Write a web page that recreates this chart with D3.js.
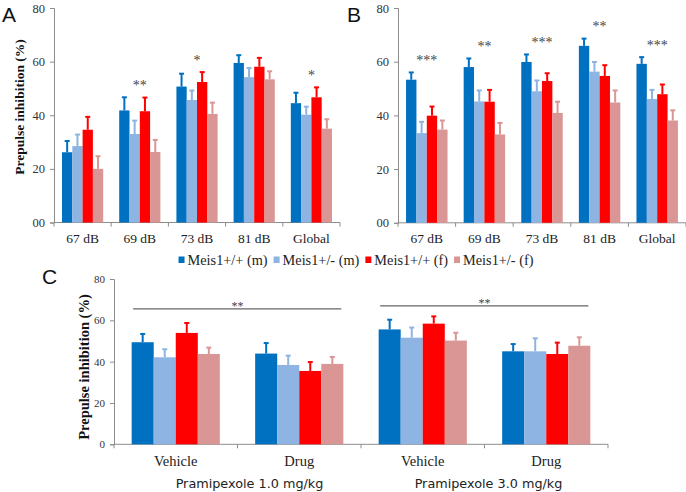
<!DOCTYPE html>
<html><head><meta charset="utf-8">
<script src="https://cdn.jsdelivr.net/npm/d3@7"></script>
<style>body{margin:0;background:#fff}svg{display:block}</style>
</head><body>
<script>
// ---------- data ----------
const seriesNames = ["Meis1+/+ (m)", "Meis1+/- (m)", "Meis1+/+ (f)", "Meis1+/- (f)"];
const seriesColors = ["#0070C0", "#8DB4E2", "#FF0000", "#D99694"];

const catsAB = ["67 dB", "69 dB", "73 dB", "81 dB", "Global"];
const ticksAB = [0, 20, 40, 60, 80];
const tickLabelsAB = ["00", "20", "40", "60", "80"];

// Panel A
const aMwt  = [26.2, 41.8, 50.7, 59.5, 44.5];
const aMhet = [28.5, 33.0, 45.7, 54.2, 40.2];
const aFwt  = [34.6, 41.5, 52.4, 58.1, 46.7];
const aFhet = [20.0, 26.3, 40.5, 53.4, 35.0];
const aMwtSem  = [4.2, 4.9, 4.8, 2.9, 3.9];
const aMhetSem = [4.3, 5.0, 3.5, 3.4, 3.0];
const aFwtSem  = [4.8, 5.1, 3.7, 3.3, 3.7];
const aFhetSem = [4.7, 4.5, 4.2, 3.0, 3.5];
const aStars = ["", "**", "*", "", "*"];

// Panel B
const bMwt  = [53.3, 58.0, 59.9, 65.9, 59.2];
const bMhet = [33.4, 45.2, 49.0, 56.3, 46.1];
const bFwt  = [39.9, 45.1, 52.8, 54.7, 47.9];
const bFhet = [34.7, 32.9, 40.9, 44.8, 38.1];
const bMwtSem  = [2.7, 3.2, 2.8, 2.7, 2.5];
const bMhetSem = [4.2, 4.1, 4.0, 3.6, 3.4];
const bFwtSem  = [3.4, 4.4, 2.9, 4.0, 3.6];
const bFhetSem = [3.4, 4.3, 4.2, 4.5, 3.8];
const bStars = ["***", "**", "***", "**", "***"];

// Panel C
const catsC = ["Vehicle", "Drug", "Vehicle", "Drug"];
const doseLabels = ["Pramipexole 1.0 mg/kg", "Pramipexole 3.0 mg/kg"];
const ticksC = [0, 20, 40, 60, 80];
const cMwt  = [49.4, 43.9, 55.6, 45.0];
const cMhet = [42.1, 38.4, 51.6, 45.0];
const cFwt  = [53.9, 35.5, 58.4, 43.7];
const cFhet = [43.7, 38.9, 50.2, 47.7];
const cMwtSem  = [4.0, 5.1, 4.7, 3.5];
const cMhetSem = [3.9, 4.5, 4.9, 6.3];
const cFwtSem  = [4.8, 4.3, 3.5, 5.5];
const cFhetSem = [3.1, 3.4, 3.8, 4.1];
const cSigFrom = [0, 2];
const cSigTo = [1, 3];
const cSigLevel = [65.5, 67];
const cSigLabel = ["**", "**"];

// ---------- drawing ----------
const W = 686, H = 492;
const svg = d3.select("body").append("svg").attr("width", W).attr("height", H);
const serif = "'Liberation Serif','Times New Roman',serif";
const axisCol = "#8c8c8c";

function panel(opts) {
  const {cats, vals, sems, x0, x1, yTop, yBot, ticks, tickLabels, tickFont, catFont, catY, barPad} = opts;
  const x = d3.scaleBand().domain(d3.range(cats.length)).range([x0, x1]).paddingInner(0).paddingOuter(0);
  const xs = d3.scaleBand().domain(d3.range(vals.length))
    .range([x.bandwidth() * barPad, x.bandwidth() * (1 - barPad)]);
  const y = d3.scaleLinear().domain([0, 80]).range([yBot, yTop]);
  const g = svg.append("g");

  const yAx = g.append("g").attr("transform", `translate(${x0},0)`)
    .call(d3.axisLeft(y).tickValues(ticks).tickSize(4).tickPadding(5)
      .tickFormat((d, i) => tickLabels[i]));
  yAx.selectAll("path,line").attr("stroke", axisCol);
  yAx.selectAll("text").attr("font-family", serif).attr("font-size", tickFont).attr("fill", "#333");

  g.append("line").attr("x1", x0).attr("x2", x1).attr("y1", yBot).attr("y2", yBot).attr("stroke", axisCol);
  const bounds = d3.range(cats.length + 1).map(i => i < cats.length ? x(i) : x1);
  g.selectAll(".bt").data(bounds).join("line")
    .attr("x1", d => d).attr("x2", d => d).attr("y1", yBot).attr("y2", yBot + 4).attr("stroke", axisCol);
  g.selectAll(".cl").data(cats).join("text")
    .attr("x", (d, i) => x(i) + x.bandwidth() / 2).attr("y", catY)
    .attr("text-anchor", "middle").attr("font-family", serif).attr("font-size", catFont).attr("fill", "#222")
    .text(d => d);

  vals.forEach((s, si) => {
    const gs = g.append("g");
    gs.selectAll("rect").data(s).join("rect")
      .attr("x", (d, i) => x(i) + xs(si)).attr("width", xs.bandwidth())
      .attr("y", d => y(d)).attr("height", d => yBot - y(d)).attr("fill", seriesColors[si]);
    gs.selectAll(".eb").data(s).join("line")
      .attr("x1", (d, i) => x(i) + xs(si) + xs.bandwidth() / 2)
      .attr("x2", (d, i) => x(i) + xs(si) + xs.bandwidth() / 2)
      .attr("y1", d => y(d)).attr("y2", (d, i) => y(d + sems[si][i]))
      .attr("stroke", seriesColors[si]).attr("stroke-width", 2);
    gs.selectAll(".cap").data(s).join("line")
      .attr("x1", (d, i) => x(i) + xs(si) + xs.bandwidth() / 2 - 2.5)
      .attr("x2", (d, i) => x(i) + xs(si) + xs.bandwidth() / 2 + 2.5)
      .attr("y1", (d, i) => y(d + sems[si][i])).attr("y2", (d, i) => y(d + sems[si][i]))
      .attr("stroke", seriesColors[si]).attr("stroke-width", 2);
  });
  return {x, xs, y, g};
}

function stars(p, labels, vals, sems) {
  labels.forEach((lab, i) => {
    if (!lab) return;
    const top = d3.max(vals.map((s, si) => s[i] + sems[si][i]));
    p.g.append("text").attr("x", p.x(i) + p.x.bandwidth() / 2).attr("y", p.y(top) - 7.5)
      .attr("text-anchor", "middle").attr("font-family", serif).attr("font-size", 14)
      .attr("fill", "#444").text(lab);
  });
}

const aVals = [aMwt, aMhet, aFwt, aFhet], aSems = [aMwtSem, aMhetSem, aFwtSem, aFhetSem];
const pA = panel({cats: catsAB, vals: aVals, sems: aSems, x0: 54, x1: 340, yTop: 8, yBot: 222.5,
  ticks: ticksAB, tickLabels: tickLabelsAB, tickFont: 12.5, catFont: 13.5, catY: 243, barPad: 0.14});
stars(pA, aStars, aVals, aSems);

const bVals = [bMwt, bMhet, bFwt, bFhet], bSems = [bMwtSem, bMhetSem, bFwtSem, bFhetSem];
const pB = panel({cats: catsAB, vals: bVals, sems: bSems, x0: 398, x1: 686, yTop: 8, yBot: 222.8,
  ticks: ticksAB, tickLabels: tickLabelsAB, tickFont: 12.5, catFont: 13.5, catY: 243, barPad: 0.14});
stars(pB, bStars, bVals, bSems);

const cVals = [cMwt, cMhet, cFwt, cFhet], cSems = [cMwtSem, cMhetSem, cFwtSem, cFhetSem];
const pC = panel({cats: catsC, vals: cVals, sems: cSems, x0: 114, x1: 608, yTop: 279, yBot: 444.3,
  ticks: ticksC, tickLabels: ticksC.map(String), tickFont: 11, catFont: 14.5, catY: 466, barPad: 0.143});

cSigFrom.forEach((f, k) => {
  const t = cSigTo[k];
  const xa = pC.x(f) + pC.xs(0) + 1.5;
  const xb = pC.x(t) + pC.xs(3) + pC.xs.bandwidth() - 2;
  const yy = pC.y(cSigLevel[k]);
  pC.g.append("line").attr("x1", xa).attr("x2", xb).attr("y1", yy).attr("y2", yy)
    .attr("stroke", "#666").attr("stroke-width", 1.2);
  pC.g.append("text").attr("x", (pC.x(f) + pC.x(t) + pC.x.bandwidth()) / 2).attr("y", yy + 1.5)
    .attr("text-anchor", "middle").attr("font-family", serif).attr("font-size", 12)
    .attr("fill", "#444").text(cSigLabel[k]);
});
const doseShift = [12, 4];
doseLabels.forEach((lab, k) => {
  svg.append("text").attr("x", pC.x(2 * k + 1) + doseShift[k]).attr("y", 488)
    .attr("text-anchor", "middle").attr("font-family", "'DejaVu Sans',Verdana,sans-serif")
    .attr("font-size", 12.8).attr("fill", "#222").text(lab);
});

function yTitle(cx, cy, size) {
  svg.append("text").attr("transform", `translate(${cx},${cy}) rotate(-90)`)
    .attr("text-anchor", "middle").attr("font-family", serif).attr("font-weight", "bold")
    .attr("font-size", size).attr("fill", "#111").text("Prepulse inhibition (%)");
}
yTitle(24, 107, 13.5);
yTitle(89, 367, 14.5);

[["A", 2, 22], ["B", 347, 22], ["C", 42, 284]].forEach(([t, x, y]) => {
  svg.append("text").attr("x", x).attr("y", y).attr("font-family", "'Liberation Sans',Arial,sans-serif")
    .attr("font-size", 21).attr("fill", "#111").text(t);
});

const legFont = 14.3;
const lg = svg.append("g");
const widths = seriesNames.map(n => {
  const t = lg.append("text").attr("font-family", serif).attr("font-size", legFont).text(n);
  const w = t.node().getComputedTextLength(); t.remove(); return w;
});
const total = d3.sum(widths) + seriesNames.length * 9 + (seriesNames.length - 1) * 6;
let lx = 356 - total / 2;
seriesNames.forEach((n, i) => {
  lg.append("rect").attr("x", lx).attr("y", 256.5).attr("width", 6).attr("height", 6.5).attr("fill", seriesColors[i]);
  lg.append("text").attr("x", lx + 9).attr("y", 265.3).attr("font-family", serif).attr("font-size", legFont)
    .attr("fill", "#222").text(n);
  lx += 9 + widths[i] + 6;
});
</script>
</body></html>
